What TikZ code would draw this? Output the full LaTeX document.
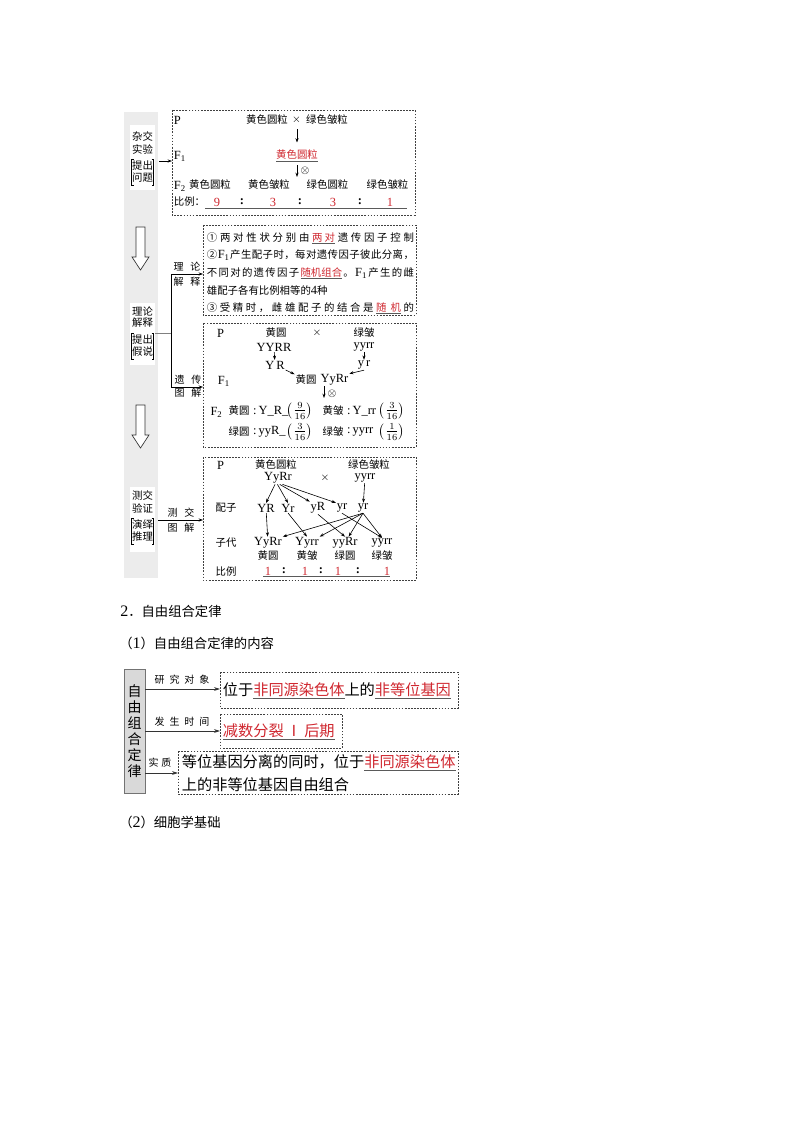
\documentclass[tikz,border=0pt]{standalone}
\usepackage[no-math]{fontspec}
\setmainfont{Noto Sans CJK SC}
\newfontfamily\lat[Scale=1.2]{Liberation Serif}
\usetikzlibrary{arrows.meta}
\definecolor{hred}{RGB}{208,40,48}
\definecolor{stripg}{RGB}{236,236,236}
\definecolor{boxg}{RGB}{217,217,217}
\definecolor{ulg}{RGB}{90,90,90}
\newcommand\ul[1]{\textcolor{ulg}{\underline{\textcolor{hred}{#1}}}}
\def\spreadaux#1{\ifx\relax#1\else{#1}\hfil\expandafter\spreadaux\fi}
\newcommand\spread[2]{\hbox to #1{\spreadaux#2\relax\unskip}}
\begin{document}
\begin{tikzpicture}[x=0.75pt,y=-0.75pt,
  sm/.style={font=\fontsize{7.8}{9}\selectfont, inner sep=0.5pt},
  fr/.style={font=\fontsize{10.5}{12}\selectfont, inner sep=0.5pt},
  lb/.style={font=\fontsize{7.5}{9}\selectfont, inner sep=0.5pt},
  sl/.style={font=\fontsize{7.8}{9}\selectfont, inner sep=0pt},
  big/.style={font=\fontsize{11.4}{13}\selectfont, inner sep=0.5pt},
  head/.style={font=\fontsize{10}{12}\selectfont, anchor=west, inner sep=0pt},
  dbox/.style={draw=black!75, line width=0.5pt, dash pattern=on 1.3pt off 1pt},
  arr/.style={line width=0.45pt, -{Stealth[length=3.2pt,width=2.3pt]}},
  arr2/.style={line width=0.5pt, black!80, -{Stealth[length=4.5pt,width=2.8pt]}},
  hollow/.style={draw=black!80, line width=0.5pt, fill=white},
  brk/.style={line width=0.5pt}]
\fill[white] (0,0) rectangle (794,1123);
\useasboundingbox (0,0) rectangle (794,1123);

% ---------- left strip ----------
\fill[stripg] (124,112) rectangle (158,578);
\fill[white] (130,125) rectangle (155,190);
\fill[white] (130,303) rectangle (155,365);
\fill[white] (130,487) rectangle (155,552);

\node[sl] (sa1) at (142.5,137) {杂交};
\node[sl] (sa2) at (142.5,149) {实验};
\node[sl] (sa3) at (142.5,166) {提出};
\node[sl] (sa4) at (142.5,178) {问题};
\draw[brk] (133.5,159) -- (131.5,159) -- (131.5,185) -- (133.5,185);
\draw[brk] (151.5,159) -- (153.5,159) -- (153.5,185) -- (151.5,185);

\node[sl] (sb1) at (142.5,311) {理论};
\node[sl] (sb2) at (142.5,323) {解释};
\node[sl] (sb3) at (142.5,340) {提出};
\node[sl] (sb4) at (142.5,352) {假说};
\draw[brk] (133.5,333) -- (131.5,333) -- (131.5,359) -- (133.5,359);
\draw[brk] (151.5,333) -- (153.5,333) -- (153.5,359) -- (151.5,359);

\node[sl] (sc1) at (142.5,496) {测交};
\node[sl] (sc2) at (142.5,508) {验证};
\node[sl] (sc3) at (142.5,525) {演绎};
\node[sl] (sc4) at (142.5,537) {推理};
\draw[brk] (133.5,518) -- (131.5,518) -- (131.5,544) -- (133.5,544);
\draw[brk] (151.5,518) -- (153.5,518) -- (153.5,544) -- (151.5,544);

\draw[hollow] (136,227) -- (145,227) -- (145,257) -- (149,257) -- (140.5,270) -- (132,257) -- (136,257) -- cycle;
\draw[hollow] (136,405) -- (145,405) -- (145,435) -- (149,435) -- (140.5,448) -- (132,435) -- (136,435) -- cycle;

% ---------- box 1 ----------
\draw[dbox] (172,110) rectangle (415,215);
\coordinate (sAe) at (159,161);
\coordinate (b1w) at (172,161);
\draw[arr] (sAe) -- (b1w);

\node[sm, anchor=west] (p1l) at (173,120) {\lat P};
\node[sm] (p1a) at (267,120) {黄色圆粒};
\node[sm] (p1x) at (296.5,120) {$\times$};
\node[sm] (p1b) at (327,120) {绿色皱粒};
\node[sm, anchor=west] (f1l) at (173,156) {\lat F\textsubscript{1}};
\node[sm, anchor=base] (f1) at (297,159) {\ul{黄色圆粒}};
\coordinate (a1t) at (297,142.5);
\draw[arr] (297,129.5) -- (a1t);
\coordinate (x1) at (297,177);
\draw[arr] (297,165.5) -- (x1);
\node[sm] (o1) at (305,171) {$\otimes$};

\node[sm, anchor=west] (f2l) at (173,186) {\lat F\textsubscript{2}};
\node[sm] (f2a) at (210,185) {黄色圆粒};
\node[sm] (f2b) at (269,185) {黄色皱粒};
\node[sm] (f2c) at (327.5,185) {绿色圆粒};
\node[sm] (f2d) at (387.5,185) {绿色皱粒};

\node[sm, anchor=west] (r1l) at (173,202) {比例：};
\coordinate (r1s) at (205,208);
\coordinate (r1e) at (407,208);
\draw[ulg, line width=0.6pt] (r1s) -- (r1e);
\node[sm, text=hred] (r1a) at (217,202) {\lat 9};
\node[sm] (r1c1) at (242,202) {\lat\textbf{:}};
\node[sm, text=hred] (r1b) at (273,202) {\lat 3};
\node[sm] (r1c2) at (300,202) {\lat\textbf{:}};
\node[sm, text=hred] (r1d) at (333,202) {\lat 3};
\node[sm] (r1c3) at (360,202) {\lat\textbf{:}};
\node[sm, text=hred] (r1e2) at (390,202) {\lat 1};

% ---------- bracket to boxes 2 and 3 ----------
\coordinate (sBe) at (155,333);
\coordinate (brT) at (171,274);
\coordinate (brM) at (171,333);
\coordinate (brB) at (171,387);
\coordinate (b2w) at (203,274);
\coordinate (b3w) at (203,387);
\draw[black!50, line width=0.7pt] (sBe) -- (brM);
\draw[line width=0.5pt] (brT) -- (brB);
\draw[arr] (brT) -- (b2w);
\draw[arr] (brB) -- (b3w);
\node[lb] (l2a) at (187,267) {\spread{20pt}{理论}};
\node[lb] (l2b) at (187,282) {\spread{20pt}{解释}};
\node[lb] (l3a) at (188,380) {\spread{20pt}{遗传}};
\node[lb] (l3b) at (188,393) {\spread{20pt}{图解}};

% ---------- box 2 ----------
\draw[dbox] (203,225) rectangle (416,315);
\node[sm, anchor=base west] (t1) at (206,241) {\spread{155.25pt}{①两对性状分别由{\ul{两\hspace{1.5pt}对}}遗传因子控制}};
\node[sm, anchor=base west] (t2) at (206,258) {\spread{155.25pt}{②{\lat F\textsubscript{1}}产生配子时，每对遗传因子彼此分离，}};
\node[sm, anchor=base west] (t3) at (206,276) {\spread{155.25pt}{不同对的遗传因子{\ul{随机组合}}。{\lat F\textsubscript{1}}产生的雌}};
\node[sm, anchor=base west] (t4) at (206,294) {雄配子各有比例相等的{\lat 4}种};
\node[sm, anchor=base west] (t5) at (206,311) {\spread{155.25pt}{③受精时，雌雄配子的结合是{\ul{随\hspace{3pt}机}}的}};

% ---------- box 3 ----------
\draw[dbox] (203,323) rectangle (416,447);
\node[sm] (p3l) at (220.5,333) {\lat P};
\node[sm] (p3a) at (276,333) {黄圆};
\node[sm] (p3x) at (317,333) {$\times$};
\node[sm] (p3b) at (364,333) {绿皱};
\node[sm] (g3a) at (274,347) {\lat YYRR};
\node[sm] (g3b) at (364,347) {\lat yyrr};
\node[sm] (m3a) at (275,365) {\lat Y\,R};
\node[sm] (m3b) at (364,365) {\lat y\,r};
\draw[arr] (g3a) -- (m3a);
\draw[arr] (g3b) -- (m3b);
\node[sm, anchor=west] (f3l) at (217,381) {\lat F\textsubscript{1}};
\node[sm] (h3) at (306,380) {黄圆};
\node[sm] (g3c) at (334.5,380) {\lat YyRr};
\draw[arr] (m3a.south east) -- (h3.north west);
\draw[arr] (m3b.south) -- (g3c.north east);
\coordinate (x3) at (324,398);
\draw[arr] (324,386) -- (x3);
\node[sm] (o3) at (332,394) {$\otimes$};

\node[sm] (f3l2) at (216.5,412) {\lat F\textsubscript{2}};
\node[sm] (q1) at (239,411) {黄圆};
\node[sm, anchor=west] (q1g) at (250,411) {\lat\,:\,Y\_R\_};
\node[fr] (q1f) at (300,411) {$\left(\frac{9}{16}\right)$};
\node[sm] (q2) at (333,411) {黄皱};
\node[sm, anchor=west] (q2g) at (344,411) {\lat\,:\,Y\_rr};
\node[fr] (q2f) at (392,411) {$\left(\frac{3}{16}\right)$};
\node[sm] (q3) at (239,432) {绿圆};
\node[sm, anchor=west] (q3g) at (250,432) {\lat\,:\,yyR\_};
\node[fr] (q3f) at (300,432) {$\left(\frac{3}{16}\right)$};
\node[sm] (q4) at (333,432) {绿皱};
\node[sm, anchor=west] (q4g) at (344,432) {\lat\,:\,yyrr};
\node[fr] (q4f) at (392,432) {$\left(\frac{1}{16}\right)$};

% ---------- box 4 ----------
\coordinate (sCe) at (158,520);
\coordinate (b4w) at (203,520);
\draw[arr] (sCe) -- (b4w);
\node[lb] (l4a) at (181,513) {\spread{20pt}{测交}};
\node[lb] (l4b) at (181,528) {\spread{20pt}{图解}};

\draw[dbox] (203,457) rectangle (416,580);
\node[sm] (p4l) at (220.5,465) {\lat P};
\node[sm] (p4a) at (276,465) {黄色圆粒};
\node[sm] (p4b) at (369,465) {绿色皱粒};
\node[sm] (g4a) at (278,478) {\lat YyRr};
\node[sm] (p4x) at (325,478) {$\times$};
\node[sm] (g4b) at (365,478) {\lat yyrr};
\node[sm] (pz) at (226,508) {配子};
\node[sm] (m1) at (266,508) {\lat YR};
\node[sm] (m2) at (288,508) {\lat Yr};
\node[sm] (m3) at (318,508) {\lat yR};
\node[sm] (m4) at (342,508) {\lat yr};
\node[sm] (m5) at (363,508) {\lat yr};
\draw[arr] (g4a.-115) -- (m1.north);
\draw[arr] (g4a.-95) -- (m2.north);
\draw[arr] (g4a.-75) -- (m3.north west);
\draw[arr] (g4a.-55) -- (m4.north west);
\draw[arr] (g4b) -- (m5);
\node[sm] (zd) at (226,543) {子代};
\node[sm] (o41) at (268,543) {\lat YyRr};
\node[sm] (o42) at (307,543) {\lat Yyrr};
\node[sm] (o43) at (345,543) {\lat yyRr};
\node[sm] (o44) at (382,543) {\lat yyrr};
\node[sm] (ph1) at (268,556) {黄圆};
\node[sm] (ph2) at (307,556) {黄皱};
\node[sm] (ph3) at (345,556) {绿圆};
\node[sm] (ph4) at (382,556) {绿皱};
\draw[arr] (m1) -- (o41);
\draw[arr] (m2.south) -- (o42.north);
\draw[arr] (m3.south) -- (o43.north);
\draw[arr] (m4.south) -- (o44.north);
\draw[arr] (m5.south) -- (o41.north east);
\draw[arr] (m5.south) -- (o42.north east);
\draw[arr] (m5.south) -- (o43.60);
\draw[arr] (m5.south) -- (o44.north);
\node[sm] (bl4) at (226,572) {比例};
\coordinate (r4s) at (263,576);
\coordinate (r4e) at (390,576);
\draw[ulg, line width=0.6pt] (r4s) -- (r4e);
\node[sm, text=hred] (r4a) at (268,571) {\lat 1};
\node[sm] (r4c1) at (284,571) {\lat\textbf{:}};
\node[sm, text=hred] (r4b) at (305,571) {\lat 1};
\node[sm] (r4c2) at (321,571) {\lat\textbf{:}};
\node[sm, text=hred] (r4d) at (338,571) {\lat 1};
\node[sm] (r4c3) at (358,571) {\lat\textbf{:}};
\node[sm, text=hred] (r4e2) at (387,571) {\lat 1};

% ---------- section 2 ----------
\node[head] (h2) at (120,611) {{\lat 2}．自由组合定律};
\node[head] (h21) at (119,643) {（{\lat 1}）自由组合定律的内容};
\node[head] (h22) at (119,822) {（{\lat 2}）细胞学基础};

\node[draw=black!55, fill=boxg, line width=0.6pt, minimum width=15.75pt, minimum height=93pt, inner sep=0pt,
      align=center, font=\fontsize{10.5}{12}\selectfont] (law) at (134.5,731) {自\\由\\组\\合\\定\\律};

\coordinate (b5w) at (220,689);
\coordinate (b6w) at (220,731);
\coordinate (b7w) at (178,773);
\draw[arr2] (law.east |- b5w) -- (b5w);
\draw[arr2] (law.east |- b6w) -- (b6w);
\draw[arr2] (law.east |- b7w) -- (b7w);
\node[lb] (k1) at (182,680) {\spread{41pt}{研究对象}};
\node[lb] (k2) at (182,722) {\spread{41pt}{发生时间}};
\node[lb] (k3) at (160,763) {\spread{17pt}{实质}};

\draw[dbox] (220,672) rectangle (458,708);
\node[big, anchor=base west] (c1) at (222,695) {位于\ul{非同源染色体}上的\ul{非等位基因}};
\draw[dbox] (220,714) rectangle (342,748);
\node[big, anchor=base west] (c2) at (222,736) {\ul{减数分裂\hspace{2pt}Ⅰ\hspace{2pt}后期}};
\draw[dbox] (178,751) rectangle (458,794);
\node[big, anchor=base west] (c3) at (181,767.5) {等位基因分离的同时，位于\ul{非同源染色体}};
\node[big, anchor=base west] (c4) at (181,790.5) {上的非等位基因自由组合};
\end{tikzpicture}
\end{document}
